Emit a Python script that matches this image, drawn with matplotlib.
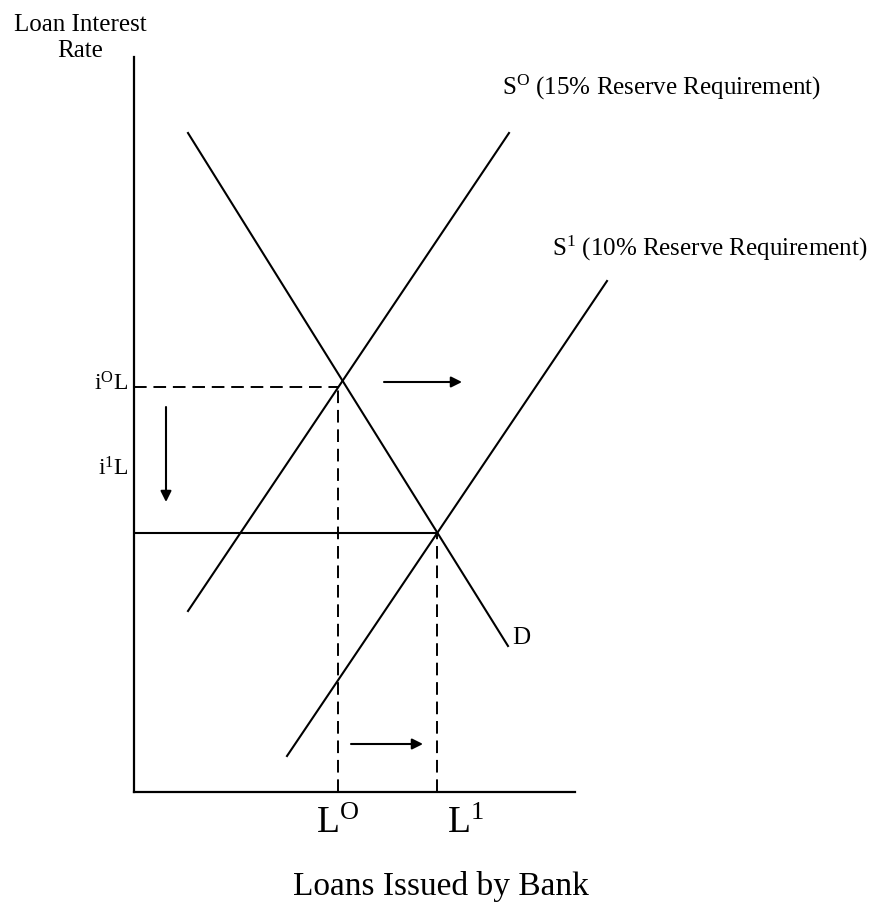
import numpy as np
import matplotlib
matplotlib.use('Agg')
import matplotlib.pyplot as plt

plt.rcParams['font.family'] = ['Liberation Serif', 'DejaVu Serif']
plt.rcParams['mathtext.fontset'] = 'custom'
plt.rcParams['mathtext.rm'] = 'Liberation Serif'
plt.rcParams['mathtext.default'] = 'regular'

# curve end points (loans, interest rate) in arbitrary units
demand_x = [54, 374]
demand_y = [659, 146]
s0_x = [54, 375]
s0_y = [181, 659]
s1_x = [153, 473]
s1_y = [36, 511]


def crossing(ax_, ay_, bx_, by_):
    # intersection of two straight lines given by end points
    ma = (ay_[1] - ay_[0]) / (ax_[1] - ax_[0])
    mb = (by_[1] - by_[0]) / (bx_[1] - bx_[0])
    x = (by_[0] - ay_[0] + ma * ax_[0] - mb * bx_[0]) / (ma - mb)
    return x, ay_[0] + ma * (x - ax_[0])


L0, i0 = crossing(demand_x, demand_y, s0_x, s0_y)
L1, i1 = crossing(demand_x, demand_y, s1_x, s1_y)

fig = plt.figure(figsize=(8.79, 9.04), dpi=100)
ax = fig.add_axes([134 / 879, 111 / 904, 441 / 879, 735 / 904])
ax.set_xlim(0, 441)
ax.set_ylim(0, 735)
for side in ['top', 'right']:
    ax.spines[side].set_visible(False)
for side in ['left', 'bottom']:
    ax.spines[side].set_linewidth(1.6)
ax.set_xticks([])
ax.set_yticks([])

lw = 1.5
ax.plot(demand_x, demand_y, color='black', lw=lw, clip_on=False)
ax.plot(s0_x, s0_y, color='black', lw=lw, clip_on=False)
ax.plot(s1_x, s1_y, color='black', lw=lw, clip_on=False)

dash = dict(color='black', lw=1.4, dashes=[6.5, 3.5])
ax.plot([0, L0 - 5], [i0 - 6, i0 - 6], **dash)
ax.plot([L0 - 5, L0 - 5], [0, i0 - 6], **dash)
ax.plot([L1, L1], [0, i1], **dash)
ax.plot([0, L1], [i1, i1], color='black', lw=lw)

arrow = dict(arrowstyle='-|>', color='black', lw=1.5, mutation_scale=16,
             shrinkA=0, shrinkB=0)
ax.annotate('', xy=(328, 410), xytext=(250, 410), arrowprops=arrow)
ax.annotate('', xy=(32, 290), xytext=(32, 385), arrowprops=arrow)
ax.annotate('', xy=(289, 48), xytext=(217, 48), arrowprops=arrow)

# labels
ax.text(-54, 731, 'Loan Interest\nRate', ha='center', va='bottom',
        fontsize=18, linespacing=1.25, clip_on=False)
ax.text(368, 706, r'S$^{O}$ (15% Reserve Requirement)', ha='left',
        va='center', fontsize=18, clip_on=False)
ax.text(418, 545, r'S$^{1}$ (10% Reserve Requirement)', ha='left',
        va='center', fontsize=18, clip_on=False)
ax.text(378, 155, 'D', ha='left', va='center', fontsize=18, clip_on=False)
ax.text(-6, 409, r'i$^{O}$L', ha='right', va='center', fontsize=17,
        clip_on=False)
ax.text(-6, 324, r'i$^{1}$L', ha='right', va='center', fontsize=17,
        clip_on=False)
ax.text(L0 - 5, -14, r'L$^{O}$', ha='center', va='top', fontsize=27,
        clip_on=False)
ax.text(L1 + 10, -14, r'L$^{1}$', ha='left', va='top', fontsize=27,
        clip_on=False)
ax.text(307, -78, 'Loans Issued by Bank', ha='center', va='top',
        fontsize=24, clip_on=False)

fig.savefig('out.png', dpi=100)
